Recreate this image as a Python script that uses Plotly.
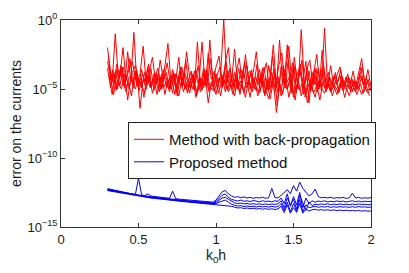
import numpy as np
import plotly.graph_objects as go

# x grids (k0 h)
x_a = np.round(np.arange(300, 2001, 20) / 1000.0, 3)   # 0.300 ... 2.000 (86 pts)
x_b = np.round(np.arange(310, 2000, 20) / 1000.0, 3)   # 0.310 ... 1.990 (85 pts)
x_c = np.round(np.arange(305, 2000, 20) / 1000.0, 3)   # 0.305 ... 1.985 (85 pts)
x_d = np.round(np.arange(315, 2000, 20) / 1000.0, 3)   # 0.315 ... 1.995 (85 pts)

# log10 of error, method with back-propagation (red)
red1 = [-2.0, -3.8, -4.6, -3.2, -4.1, -2.0, -4.4, -3.5, -3.0, -4.2,
        -4.8, -3.6, -4.5, -3.4, -4.9, -3.9, -4.6, -2.9, -4.3, -3.8,
        -5.0, -3.6, -4.4, -2.7, -4.8, -3.9, -4.5, -3.7, -5.1, -1.6,
        -4.7, -3.5, -4.9, -1.45, -4.6, -3.4, -2.6, -4.8, -3.1, -2.0,
        -4.5, -2.1, -4.9, -3.6, -4.2, -3.3, -5.0, -3.8, -2.3, -4.6,
        -3.5, -5.2, -3.3, -4.7, -3.9, -5.3, -3.4, -4.6, -1.8, -4.9,
        -3.2, -5.0, -3.7, -4.4, -3.0, -6.0, -3.8, -4.7, -3.5, -5.1,
        -0.6, -4.8, -3.3, -4.9, -4.0, -3.4, -4.8, -4.1, -5.0, -4.3,
        -4.9, -3.9, -2.8, -4.7, -3.6, -4.8]
red2 = [-3.3, -4.5, -1.0, -4.2, -3.6, -4.8, -2.3, -4.4, -0.9, -4.6,
        -3.9, -1.9, -4.7, -3.6, -2.7, -4.5, -3.8, -5.0, -3.5, -1.7,
        -4.6, -3.9, -5.1, -3.4, -4.7, -2.3, -4.2, -5.0, -3.6, -4.5,
        -1.6, -4.8, -2.4, -4.3, -3.7, -5.0, -3.9, 0.0, -4.6, -3.5,
        -4.9, -3.8, -2.75, -4.7, -2.5, -4.4, -3.6, -5.0, -3.9, -4.6,
        -3.4, -5.1, -4.0, -1.8, -4.9, -1.45, -4.7, -3.6, -1.9, -4.8,
        -3.3, -5.0, -0.7, -4.6, -3.5, -5.2, -3.9, -2.5, -4.8, -3.7,
        -5.0, -4.1, -4.7, -3.8, -5.1, -4.2, -4.8, -3.9, -5.0, -4.4,
        -4.9, -4.0, -4.7, -4.2, -5.0]
red3 = [-3.0, -4.2, -5.4, -3.6, -4.8, -3.4, -4.0, -5.0, -3.8, -3.3,
        -4.4, -4.9, -3.8, -4.6, -3.5, -5.1, -4.0, -4.7, -3.6, -4.9,
        -4.2, -5.3, -3.9, -4.6, -3.4, -5.0, -4.3, -4.9, -3.7, -4.4,
        -5.2, -4.0, -3.6, -4.8, -5.1, -3.9, -4.5, -4.0, -5.2, -3.7,
        -4.9, -3.8, -5.0, -4.4, -5.3, -4.0, -3.7, -4.8, -5.1, -3.6,
        -4.6, -4.2, -5.0, -3.8, -4.9, -4.1, -5.2, -3.6, -4.5, -3.9,
        -5.3, -4.1, -3.4, -5.0, -4.3, -3.7, -5.1, -4.0, -4.8, -3.6,
        -4.9, -4.4, -5.2, -4.1, -4.7, -4.0, -5.1, -4.5, -4.2, -5.2,
        -4.4, -4.9, -4.1, -5.0, -4.3, -5.1]
red4 = [-4.0, -5.4, -3.8, -4.6, -5.0, -3.9, -5.8, -4.2, -4.9, -3.7,
        -6.4, -4.3, -5.0, -4.1, -5.3, -4.4, -5.1, -3.9, -5.4, -4.3,
        -5.0, -4.2, -5.5, -4.0, -5.2, -4.5, -5.3, -4.1, -5.6, -4.4,
        -5.1, -4.0, -6.0, -4.5, -5.2, -4.3, -5.5, -4.2, -5.0, -4.6,
        -5.4, -4.1, -5.2, -4.7, -5.6, -4.3, -5.0, -4.5, -5.5, -4.2,
        -5.3, -4.6, -5.7, -4.4, -6.7, -4.5, -5.4, -4.2, -5.6, -4.5,
        -5.8, -4.3, -5.5, -4.6, -6.0, -4.4, -5.3, -4.7, -5.8, -4.5,
        -5.2, -4.6, -5.5, -4.8, -5.3, -4.6, -5.6, -4.7, -5.2, -4.9,
        -5.4, -4.6, -5.3, -4.8, -5.5]
red5 = [-3.5, -4.9, -4.0, -5.0, -3.7, -4.6, -5.2, -4.1, -4.5, -5.0,
        -4.2, -4.8, -5.3, -4.0, -4.7, -4.3, -5.4, -4.1, -4.9, -4.5,
        -5.2, -4.0, -4.8, -5.5, -4.3, -4.9, -5.1, -4.2, -4.6, -5.3,
        -4.4, -4.9, -4.1, -5.0, -4.6, -5.4, -4.2, -4.9, -4.4, -5.2,
        -4.7, -5.5, -4.3, -4.8, -5.1, -4.5, -5.6, -4.2, -4.9, -5.3,
        -4.4, -5.0, -5.7, -4.6, -5.2, -4.4, -5.5, -4.8, -5.0, -4.3,
        -5.6, -4.7, -5.1, -4.5, -5.4, -4.6, -5.0, -5.6, -4.4, -4.9,
        -5.3, -4.7, -5.2, -4.8, -5.4, -4.6, -5.1, -4.9, -5.5, -4.7,
        -5.2, -4.8, -5.4, -4.9, -5.3, -5.0]
red6 = [-2.6, -4.4, -3.9, -5.0, -3.3, -4.6, -4.0, -2.8, -4.7, -3.6,
        -5.1, -3.9, -4.5, -3.2, -4.8, -4.1, -3.5, -5.0, -4.2, -3.1,
        -4.6, -3.8, -5.2, -3.7, -4.4, -2.9, -4.9, -3.9, -4.6, -3.3,
        -5.0, -3.6, -4.5, -2.8, -4.9, -4.1, -3.4, -4.7, -3.0, -4.8,
        -3.9, -5.1, -3.5, -4.4, -3.0, -4.9, -3.8, -4.6, -3.2, -5.2,
        -4.0, -3.1, -5.0, -2.6, -4.8, -3.3, -2.4, -4.9, -3.0, -5.3,
        -2.7, -4.5, -3.2, -5.4, -3.6, -2.9, -4.7, -3.5, -5.0, -2.2,
        -4.6, -3.8, -5.1, -4.0, -4.5, -3.6, -4.9, -4.2, -4.7, -3.7,
        -5.0, -4.1, -3.5, -4.8, -4.3]
red7 = [-4.4, -3.6, -5.1, -4.3, -3.4, -4.9, -4.5, -5.5, -3.7, -4.8,
        -4.2, -5.6, -4.0, -4.9, -4.4, -3.8, -5.2, -4.5, -4.0, -5.0,
        -4.3, -5.4, -4.1, -4.8, -3.8, -5.3, -4.4, -4.0, -5.5, -4.2,
        -4.7, -3.9, -5.2, -4.4, -4.0, -5.3, -4.6, -3.7, -5.1, -4.3,
        -4.8, -4.0, -5.4, -3.6, -4.9, -4.4, -5.2, -4.1, -4.7, -3.9,
        -5.5, -4.3, -4.9, -3.5, -6.2, -4.1, -3.3, -5.0, -4.4, -3.1,
        -5.3, -4.0, -2.9, -5.6, -4.2, -4.8, -3.6, -5.2, -4.4, -3.4,
        -5.0, -4.2, -4.8, -4.4, -5.2, -4.1, -4.9, -4.5, -4.3, -5.1,
        -4.6, -3.4, -5.0, -4.5, -4.7]

# log10 of error, proposed method (blue), on grid x_a
blue1 = [-12.22, -12.28, -12.33, -12.38, -12.42, -12.47, -12.52, -12.56, -12.60, -12.64,
         -11.45, -12.68, -12.72, -12.60, -12.76, -12.79, -12.82, -12.85, -12.87, -12.90,
         -12.92, -12.40, -12.95, -12.98, -13.00, -13.03, -13.05, -13.07, -13.09, -13.11,
         -13.13, -13.15, -13.16, -13.18, -13.20, -13.05, -12.75, -12.45, -12.35, -12.60,
         -12.75, -12.85, -12.80, -12.88, -12.82, -12.90, -12.85, -12.92, -12.86, -12.90,
         -12.84, -12.92, -12.88, -12.20, -12.86, -12.90, -12.70, -12.50, -12.30, -12.60,
         -12.00, -12.40, -11.75, -12.20, -12.50, -12.75, -12.60, -12.25, -12.80, -12.88,
         -12.85, -12.90, -12.84, -12.92, -12.87, -12.90, -12.85, -12.93, -12.88, -12.55,
         -12.90, -12.86, -12.92, -12.88, -12.91, -12.87]
blue2 = [-12.25, -12.30, -12.35, -12.40, -12.44, -12.49, -12.54, -12.58, -12.62, -12.66,
         -12.70, -12.72, -12.76, -12.78, -12.81, -12.84, -12.86, -12.89, -12.92, -12.94,
         -12.96, -12.99, -13.01, -13.03, -13.06, -13.08, -13.10, -13.12, -13.14, -13.16,
         -13.18, -13.20, -13.22, -13.23, -13.25, -13.15, -12.95, -12.70, -12.60, -12.85,
         -13.00, -13.08, -13.12, -13.05, -13.14, -13.10, -13.16, -13.08, -13.13, -13.17,
         -13.10, -13.15, -13.12, -13.18, -13.10, -13.14, -12.90, -13.30, -12.60, -13.50,
         -12.80, -13.40, -12.50, -13.60, -12.90, -13.30, -13.10, -13.20, -13.12, -13.16,
         -13.10, -13.18, -13.13, -13.17, -13.11, -13.16, -13.12, -13.19, -13.14, -13.10,
         -13.17, -13.12, -13.18, -13.13, -13.16, -13.14]
blue3 = [-12.30, -12.34, -12.39, -12.43, -12.48, -12.52, -12.57, -12.61, -12.65, -12.69,
         -12.73, -12.76, -12.79, -12.82, -12.85, -12.88, -12.90, -12.93, -12.96, -12.98,
         -13.00, -13.03, -13.05, -13.07, -13.10, -13.12, -13.14, -13.16, -13.18, -13.20,
         -13.22, -13.24, -13.26, -13.28, -13.30, -13.22, -13.05, -12.90, -12.85, -13.00,
         -13.15, -13.25, -13.30, -13.27, -13.33, -13.29, -13.35, -13.31, -13.36, -13.32,
         -13.37, -13.33, -13.38, -13.34, -13.36, -13.32, -13.10, -13.60, -12.90, -13.40,
         -13.00, -13.70, -12.70, -13.30, -13.80, -13.20, -13.45, -13.35, -13.38, -13.33,
         -13.37, -13.32, -13.39, -13.34, -13.38, -13.33, -13.37, -13.35, -13.39, -13.34,
         -13.38, -13.33, -13.37, -13.35, -13.39, -13.36]
blue4 = [-12.33, -12.37, -12.42, -12.46, -12.50, -12.55, -12.59, -12.63, -12.67, -12.71,
         -12.75, -12.78, -12.81, -12.84, -12.87, -12.90, -12.93, -12.95, -12.98, -13.00,
         -13.03, -13.05, -13.08, -13.10, -13.12, -13.14, -13.17, -13.19, -13.21, -13.23,
         -13.25, -13.27, -13.29, -13.31, -13.33, -13.30, -13.20, -13.10, -13.05, -13.20,
         -13.35, -13.42, -13.48, -13.45, -13.52, -13.47, -13.53, -13.49, -13.55, -13.50,
         -13.54, -13.51, -13.56, -13.50, -13.55, -13.52, -13.30, -13.80, -13.20, -13.90,
         -13.30, -13.85, -13.00, -13.90, -13.40, -13.60, -13.55, -13.50, -13.57, -13.52,
         -13.56, -13.51, -13.58, -13.53, -13.57, -13.52, -13.56, -13.54, -13.58, -13.53,
         -13.57, -13.52, -13.56, -13.54, -13.58, -13.55]
blue5 = [-12.36, -12.40, -12.45, -12.49, -12.53, -12.58, -12.62, -12.66, -12.70, -12.74,
         -12.78, -12.81, -12.84, -12.87, -12.90, -12.92, -12.95, -12.98, -13.00, -13.03,
         -13.05, -13.08, -13.10, -13.12, -13.15, -13.17, -13.19, -13.21, -13.23, -13.25,
         -13.27, -13.29, -13.31, -13.33, -13.35, -13.36, -13.38, -13.40, -13.42, -13.44,
         -13.50, -13.56, -13.62, -13.60, -13.66, -13.62, -13.68, -13.64, -13.70, -13.66,
         -13.71, -13.67, -13.72, -13.68, -13.73, -13.69, -13.50, -13.95, -13.40, -14.00,
         -13.60, -13.95, -13.30, -14.00, -13.70, -13.85, -13.75, -13.72, -13.78, -13.74,
         -13.79, -13.75, -13.80, -13.76, -13.81, -13.77, -13.82, -13.78, -13.83, -13.79,
         -13.84, -13.80, -13.85, -13.81, -13.86, -13.83]

y_tick_exps = [-15, -10, -5, 0]
x_ticks = [0, 0.5, 1, 1.5, 2]
legend_names = ["Method with back-propagation", "Proposed method"]

FONT = "Liberation Sans, Arial, Helvetica, sans-serif"

fig = go.Figure()

red_series = [(x_a, red1), (x_b, red2), (x_c, red6), (x_a, red3),
              (x_d, red7), (x_b, red4), (x_a, red5)]
for k, (xs, ys) in enumerate(red_series):
    fig.add_trace(go.Scatter(
        x=xs, y=[10.0 ** v for v in ys], mode="lines",
        line=dict(color="#ff0000", width=1),
        name=legend_names[0], legendgroup="red", showlegend=(k == 0)))

for k, ys in enumerate([blue1, blue2, blue3, blue4, blue5]):
    fig.add_trace(go.Scatter(
        x=x_a, y=[10.0 ** v for v in ys], mode="lines",
        line=dict(color="#0000ff", width=1),
        name=legend_names[1], legendgroup="blue", showlegend=(k == 0)))

# the page body adds an 8px offset, so the figure is drawn slightly smaller
fig.update_layout(
    width=401, height=265,
    margin=dict(l=53, r=38, t=12, b=46),
    paper_bgcolor="white", plot_bgcolor="white",
    font=dict(family=FONT, size=13, color="#1a1a1a"),
    showlegend=True,
    legend=dict(
        x=0.216, y=0.507, xanchor="left", yanchor="top",
        bgcolor="white", bordercolor="#222222", borderwidth=1,
        font=dict(family=FONT, size=15, color="#111111"),
        tracegroupgap=0,
    ),
)

fig.update_xaxes(
    range=[0, 2], tickvals=x_ticks, ticktext=[f"{t:g}" for t in x_ticks],
    ticks="inside", ticklen=4, tickcolor="#333333",
    showline=True, linecolor="#333333", linewidth=1, mirror="ticks",
    showgrid=False, zeroline=False, automargin=True,
    title=dict(text="k<sub>0</sub>h", font=dict(size=14), standoff=2),
    tickfont=dict(size=13),
)
fig.update_yaxes(
    type="log", range=[-15, 0],
    tickvals=[10.0 ** e for e in y_tick_exps],
    ticktext=[f"10<sup>{str(e).replace('-', '−')}</sup>" for e in y_tick_exps],
    ticks="inside", ticklen=4, tickcolor="#333333",
    showline=True, linecolor="#333333", linewidth=1, mirror="ticks",
    showgrid=False, zeroline=False, automargin=False,
    title=dict(text="error on the currents", font=dict(size=14)),
    tickfont=dict(size=13),
)

fig.write_html("out.html")
